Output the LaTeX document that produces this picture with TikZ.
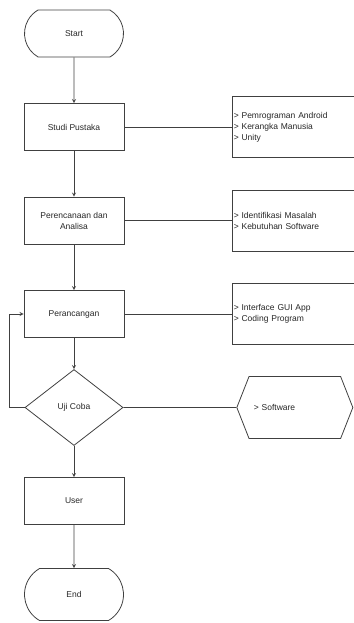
\documentclass[tikz,border=0pt]{standalone}
\usepackage{fontspec}
\setmainfont{Liberation Sans}
\usetikzlibrary{shapes,arrows,positioning}

\begin{document}
\begin{tikzpicture}[x=1pt, y=1pt, node distance=93.5pt, auto, line width=0.8pt, draw=black!75, text=black!85, font=\fontsize{8.5}{11}\selectfont]
\tikzstyle{terminal} = [rounded rectangle, rounded rectangle arc length=120, draw, minimum width=99pt, minimum height=47pt, inner sep=0pt]
\tikzstyle{block} = [rectangle, draw, minimum width=100pt, minimum height=47pt, align=center]
\tikzstyle{note} = [rectangle, draw, minimum height=61pt, text width=123pt, inner sep=1pt, align=left]
\tikzstyle{decision} = [diamond, draw, minimum width=98pt, minimum height=76pt, inner sep=0pt]
\tikzstyle{outbox} = [signal, signal to=west and east, signal pointer angle=137, draw, minimum width=116pt, minimum height=62pt, text width=82pt, inner xsep=0pt, align=left]
\tikzstyle{arrow} = [->,>=stealth]

\useasboundingbox (0,0) rectangle (353,-623);

\node [terminal] (start) at (74,-33.5) {Start};
\node [block, below of=start] (studi) {Studi Pustaka};
\node [block, below of=studi] (rencana) {Perencanaan dan\\Analisa};
\node [block, below of=rencana] (rancang) {Perancangan};
\node [decision, below of=rancang] (uji) {Uji Coba};
\node [block, below of=uji] (user) {User};
\node [terminal, below of=user, minimum height=52pt] (end) {End};

\node [note, right=108pt of studi] (pustaka) {> Pemrograman Android\\> Kerangka Manusia\\> Unity};
\node [note, right=108pt of rencana] (analisa) {> Identifikasi Masalah\\> Kebutuhan Software};
\node [note, right=108pt of rancang] (desain) {> Interface GUI App\\> Coding Program};
\node [outbox, right=113pt of uji] (software) {> Software};

\draw [arrow] (start) -- (studi);
\draw [arrow] (studi) -- (rencana);
\draw [arrow] (rencana) -- (rancang);
\draw [arrow] (rancang) -- (uji);
\draw [arrow] (uji) -- (user);
\draw [arrow] (user) -- (end);
\draw [arrow] (uji.west) -- ++(-15,0) |- (rancang.west);

\draw (studi) -- (pustaka);
\draw (rencana) -- (analisa);
\draw (rancang) -- (desain);
\draw (uji) -- (software);
\end{tikzpicture}
\end{document}
